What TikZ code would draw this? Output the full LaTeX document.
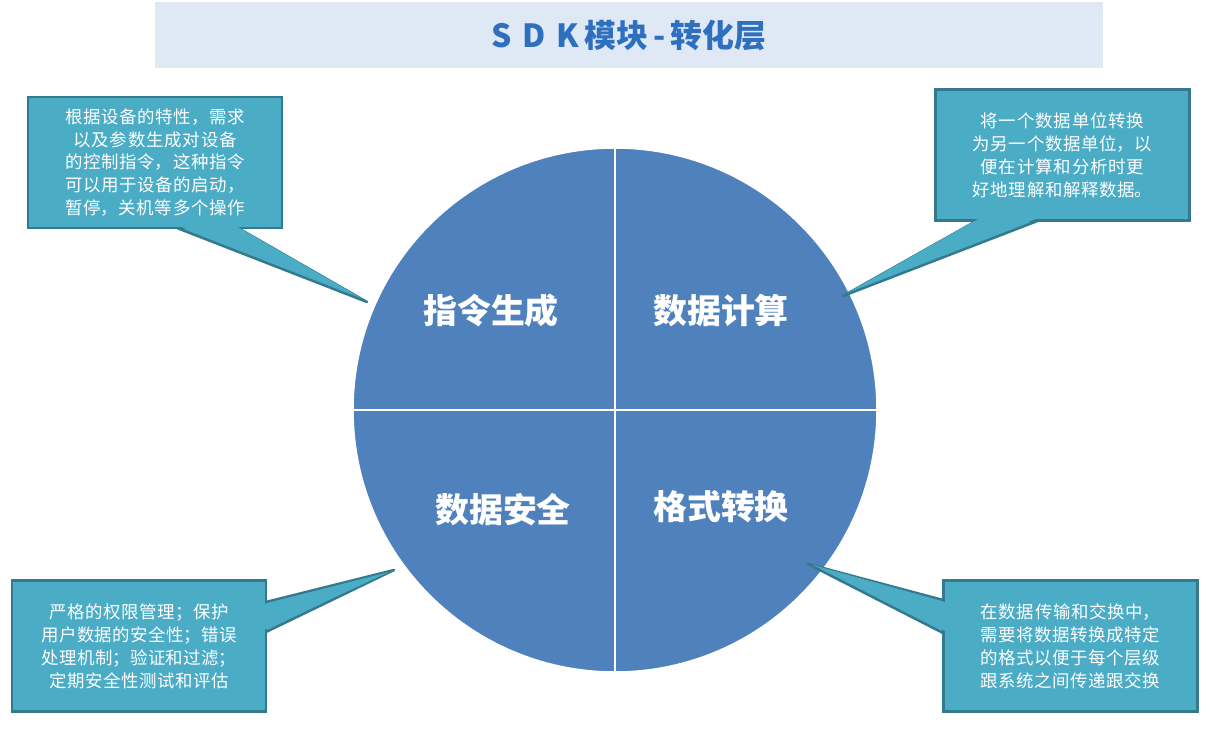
\documentclass[tikz,border=0pt]{standalone}
\usepackage{fontspec}
\setmainfont{Noto Sans CJK SC}
\XeTeXlinebreaklocale "zh"
\XeTeXlinebreakskip=0pt plus 1pt
\usetikzlibrary{positioning, calc}

\definecolor{titlebg}{HTML}{DFE8F5}
\definecolor{titleblue}{HTML}{2E6FC0}
\definecolor{sector}{HTML}{4F81BD}
\definecolor{callfill}{HTML}{4BACC6}
\definecolor{callline}{HTML}{357A8C}

\tikzset{
  callbox/.style={draw=callline, line width=2.5bp, fill=callfill, text=white,
    minimum width=254bp, minimum height=131bp, inner sep=0pt,
    align=center, text width=222bp, font=\fontsize{17.5}{23}\selectfont},
  wedge/.style={fill=callfill, draw=callline, line width=2.5bp, line join=round},
  seclabel/.style={text=white, font=\fontsize{34}{38}\selectfont\bfseries}
}

\begin{document}
\begin{tikzpicture}[x=1bp, y=-1bp]
  \useasboundingbox (0,0) rectangle (1210,731);

  % title
  \node[fill=titlebg, minimum width=948bp, minimum height=66bp, inner sep=0pt,
    text=titleblue, font=\fontsize{32}{36}\selectfont\bfseries] (title) at (629,35)
    {S\,\,D\,\,K\,模块\,-\,转化层};

  % circle
  \coordinate (c) at (615,410);
  \fill[sector] (c) circle (262bp);
  \draw[white, line width=1.5bp] (c) circle (262bp);
  \draw[white, line width=1.5bp] ($(c)+(-262,0)$) -- ($(c)+(262,0)$)
    ($(c)+(0,-262)$) -- ($(c)+(0,262)$);
  \node[seclabel] (zl) at (491,311) {指令生成};
  \node[seclabel] (zr) at (721,311) {数据计算};
  \node[seclabel] (bl) at (503,510) {数据安全};
  \node[seclabel] (br) at (721,507) {格式转换};

  % callout tips
  \coordinate (tl) at (367,302);
  \coordinate (tr) at (843,296);
  \coordinate (ll) at (394,570);
  \coordinate (lr) at (808,564);

  \draw[wedge] (177,228) -- (tl) -- (238,228);
  \draw[wedge] (978,220) -- (tr) -- (1040,220);
  \draw[wedge] (266,602) -- (ll) -- (266,632);
  \draw[wedge] (943,600) -- (lr) -- (943,633);

  \node[callbox] (a) at (155,162.5) {根据设备的特性，需求以及参数生成对设备的控制指令，这种指令可以用于设备的启动，暂停，关机等多个操作};
  \node[callbox] (b) at (1062.5,155) {将一个数据单位转换为另一个数据单位，以便在计算和分析时更好地理解和解释数据。};
  \node[callbox] (d) at (139,646) {严格的权限管理；保护用户数据的安全性；错误处理机制；验证和过滤；定期安全性测试和评估};
  \node[callbox] (e) at (1070.5,646) {在数据传输和交换中，需要将数据转换成特定的格式以便于每个层级跟系统之间传递跟交换};

  \fill[callfill] (179,226) -- ($(tl)+(-4,-3)$) -- (236,226) -- cycle;
  \fill[callfill] (980,218) -- ($(tr)+(4,-3)$) -- (1038,218) -- cycle;
  \fill[callfill] (264,604) -- ($(ll)+(-5,2)$) -- (264,630) -- cycle;
  \fill[callfill] (945,602) -- ($(lr)+(5,1)$) -- (945,631) -- cycle;
\end{tikzpicture}
\end{document}
